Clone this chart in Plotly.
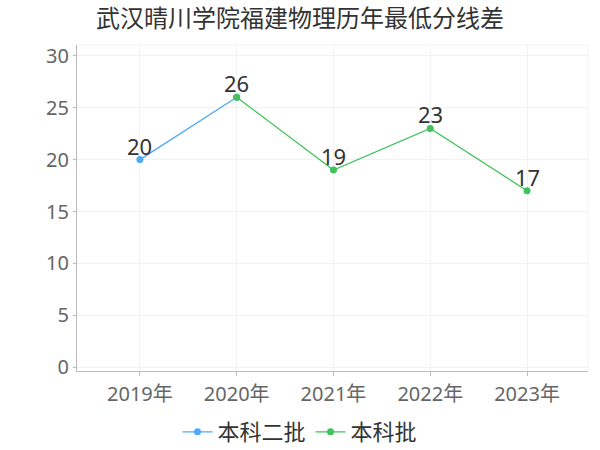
import plotly.graph_objects as go

years = ["2019年", "2020年", "2021年", "2022年", "2023年"]
s1_name = "本科二批"
s1_x = ["2019年", "2020年"]
s1_y = [20, 26]
s2_name = "本科批"
s2_x = ["2020年", "2021年", "2022年", "2023年"]
s2_y = [26, 19, 23, 17]
title = "武汉晴川学院福建物理历年最低分线差"

blue = "#4fa8f9"
green = "#3fc35a"
font_family = "Noto Sans, Noto Sans CJK SC, sans-serif"

fig = go.Figure()
fig.add_trace(go.Scatter(
    x=s1_x, y=s1_y, name=s1_name, mode="lines+markers",
    line=dict(color=blue, width=1.3), marker=dict(color=blue, size=7),
))
fig.add_trace(go.Scatter(
    x=s2_x, y=s2_y, name=s2_name, mode="lines+markers",
    line=dict(color=green, width=1.3), marker=dict(color=green, size=7),
))

annotations = []
labels = {}
for xs, ys in ((s1_x, s1_y), (s2_x, s2_y)):
    for xv, yv in zip(xs, ys):
        labels[xv] = yv
for xv, yv in labels.items():
    annotations.append(dict(x=xv, y=yv, xref="x", yref="y", text=str(yv),
                            showarrow=False, yanchor="middle", yshift=14,
                            font=dict(size=22, color="#333333", family=font_family)))

fig.update_layout(
    width=600, height=450,
    margin=dict(l=77, r=12, t=45, b=79, autoexpand=False),
    paper_bgcolor="white", plot_bgcolor="white",
    font=dict(family=font_family, color="#666666"),
    title=dict(text=title, x=0.5, xanchor="center", y=0.958, yanchor="middle",
               font=dict(size=24, color="#333333", family="Noto Sans CJK SC, sans-serif")),
    showlegend=True,
    legend=dict(orientation="h", x=0.5, xanchor="center", xref="container",
                y=0.04, yanchor="middle", yref="container",
                font=dict(size=22, color="#333333", family="Noto Sans CJK SC, sans-serif"),
                itemwidth=30, tracegroupgap=0),
    xaxis=dict(type="category", categoryorder="array", categoryarray=years,
               range=[-0.65, 4.63], showgrid=True, gridcolor="#f2f2f2",
               showline=True, linecolor="#bbbbbb", linewidth=1,
               ticks="outside", ticklen=4, tickcolor="#bbbbbb",
               ticklabelstandoff=1, automargin=False,
               tickfont=dict(size=20, color="#666666"), zeroline=False),
    yaxis=dict(range=[-0.35, 31.03], dtick=5, showgrid=True, gridcolor="#f2f2f2",
               showline=True, linecolor="#bbbbbb", linewidth=1,
               ticks="outside", ticklen=3, tickcolor="#bbbbbb", automargin=False,
               tickfont=dict(size=20, color="#666666"), zeroline=False),
    annotations=annotations,
    shapes=[
        dict(type="line", xref="paper", yref="paper", x0=0, x1=1, y0=1, y1=1,
             line=dict(color="#f2f2f2", width=1), layer="below"),
        dict(type="line", xref="paper", yref="paper", x0=1, x1=1, y0=0, y1=1,
             line=dict(color="#f2f2f2", width=1), layer="below"),
    ],
)

fig.write_html("out.html", config={"displayModeBar": False},
               post_script="document.body.style.margin='0';document.body.style.overflow='hidden';")
